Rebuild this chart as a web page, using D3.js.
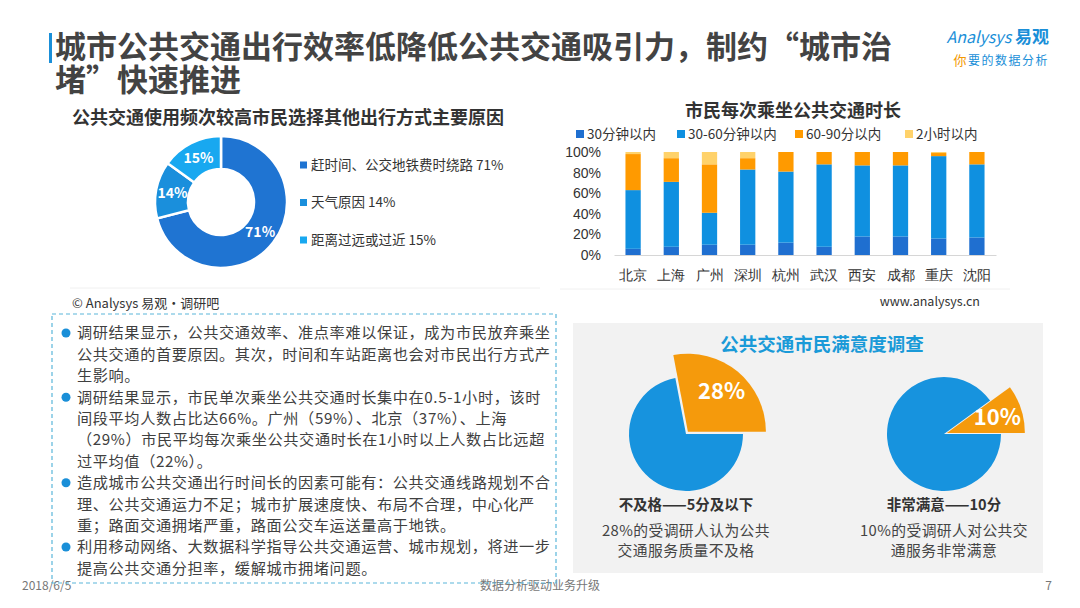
<!DOCTYPE html>
<html>
<head>
<meta charset="utf-8">
<script src="https://cdn.jsdelivr.net/npm/d3@7"></script>
<style>
  body { margin: 0; background: #fff; }
  svg { display: block; font-family: "Noto Sans CJK SC", "Noto Sans", sans-serif; }
</style>
</head>
<body>
<svg id="slide" width="1080" height="608"></svg>
<script>
// ---- data ----
var reasons = ["赶时间、公交地铁费时绕路", "天气原因", "距离过远或过近"];
var reasonShares = [71, 14, 15];
var reasonColors = ["#1f74d2", "#1a8fdc", "#18a8f0"];

var cities = ["北京", "上海", "广州", "深圳", "杭州", "武汉", "西安", "成都", "重庆", "沈阳"];
var durationKeys = ["30分钟以内", "30-60分钟以内", "60-90分以内", "2小时以内"];
var under30 = [6, 8, 10, 10, 12, 8, 18, 18, 16, 17];
var from30to60 = [57, 63, 31, 73, 69, 80, 69, 69, 80, 71];
var from60to90 = [35, 23, 47, 11, 19, 12, 13, 13, 3, 12];
var within2h = [2, 6, 12, 6, 0, 0, 0, 0, 1, 0];
var durationColors = ["#1f6fd0", "#0f90e0", "#ff9a00", "#ffd26a"];
var percentTicks = [0, 20, 40, 60, 80, 100];

var satisfactionTitles = ["不及格——5分及以下", "非常满意——10分"];
var satisfactionShares = [28, 10];
var satisfactionNotes = [
    ["28%的受调研人认为公共", "交通服务质量不及格"],
    ["10%的受调研人对公共交", "通服务非常满意"]
];

var findings = [
    ["调研结果显示，公共交通效率、准点率难以保证，成为市民放弃乘坐",
     "公共交通的首要原因。其次，时间和车站距离也会对市民出行方式产",
     "生影响。"],
    ["调研结果显示，市民单次乘坐公共交通时长集中在0.5-1小时，该时",
     "间段平均人数占比达66%。广州（59%）、北京（37%）、上海",
     "（29%）市民平均每次乘坐公共交通时长在1小时以上人数占比远超",
     "过平均值（22%）。"],
    ["造成城市公共交通出行时间长的因素可能有：公共交通线路规划不合",
     "理、公共交通运力不足；城市扩展速度快、布局不合理，中心化严",
     "重；路面交通拥堵严重，路面公交车运送量高于地铁。"],
    ["利用移动网络、大数据科学指导公共交通运营、城市规划，将进一步",
     "提高公共交通分担率，缓解城市拥堵问题。"]
];

var svg = d3.select("#slide");

/**
 * Slide title, logo and footer
 */
function drawFrame() {
    svg.append("rect")
        .attr("x", 49).attr("y", 33)
        .attr("width", 3).attr("height", 30)
        .attr("fill", "#1a8fd8");

    var title = svg.append("text")
        .style("font-size", "31px")
        .style("font-weight", "bold")
        .style("fill", "#434343");
    title.append("tspan").attr("x", 55).attr("y", 58)
        .text("城市公共交通出行效率低降低公共交通吸引力，制约“城市治");
    title.append("tspan").attr("x", 55).attr("y", 91)
        .text("堵”快速推进");

    // logo
    svg.append("text")
        .attr("x", 1049).attr("y", 43)
        .attr("text-anchor", "end")
        .style("font-size", "17px")
        .style("fill", "#1a8fd8")
        .html('<tspan style="font-style:italic;font-size:16px">Analysys</tspan> <tspan font-weight="bold">易观</tspan>');
    svg.append("text")
        .attr("x", 1049).attr("y", 65)
        .attr("text-anchor", "end")
        .style("font-size", "12px")
        .style("fill", "#1a8fd8")
        .style("letter-spacing", "1.5px")
        .html('<tspan fill="#f39800" style="font-size:13px">你</tspan>要的数据分析');

    // footer
    var footer = svg.append("g")
        .style("font-size", "12px")
        .style("fill", "#777");
    footer.append("text").attr("x", 22).attr("y", 590).text("2018/6/5");
    footer.append("text").attr("x", 540).attr("y", 590).attr("text-anchor", "middle").text("数据分析驱动业务升级");
    footer.append("text").attr("x", 1052).attr("y", 590).attr("text-anchor", "end").text("7");
}

/**
 * Donut of reasons for choosing other transport
 */
function drawReasonDonut() {
    var cx = 221, cy = 202;
    var g = svg.append("g").attr("class", "donut");

    g.append("text")
        .attr("x", 288).attr("y", 124)
        .attr("text-anchor", "middle")
        .style("font-size", "18px")
        .style("font-weight", "bold")
        .style("fill", "#333")
        .text("公共交通使用频次较高市民选择其他出行方式主要原因");

    var pie = d3.pie().sort(null)(reasonShares);
    var arc = d3.arc().innerRadius(33).outerRadius(66);

    var slices = g.append("g")
        .attr("transform", "translate(" + cx + "," + cy + ")")
        .selectAll(".slice")
        .data(pie)
        .enter();

    slices.append("path")
        .attr("class", "slice")
        .attr("d", arc)
        .attr("fill", function (d, i) { return reasonColors[i]; })
        .attr("stroke", "#fff")
        .attr("stroke-width", 2.5);

    slices.append("text")
        .attr("transform", function (d) { return "translate(" + arc.centroid(d) + ")"; })
        .attr("text-anchor", "middle")
        .attr("dy", "0.36em")
        .style("font-size", "14px")
        .style("font-weight", "bold")
        .style("fill", "#fff")
        .text(function (d) { return d.data + "%"; });

    // legend
    var legend = g.selectAll(".legend")
        .data(reasons)
        .enter()
        .append("g")
        .attr("class", "legend")
        .attr("transform", function (d, i) { return "translate(300," + (165 + i * 37.5) + ")"; });
    legend.append("rect")
        .attr("x", 0).attr("y", -3.5)
        .attr("width", 7).attr("height", 7)
        .attr("fill", function (d, i) { return reasonColors[i]; });
    legend.append("text")
        .attr("x", 11).attr("dy", "0.36em")
        .style("font-size", "13.5px")
        .style("fill", "#333")
        .text(function (d, i) { return d + " " + reasonShares[i] + "%"; });

    g.append("line")
        .attr("x1", 70).attr("x2", 540).attr("y1", 288).attr("y2", 288)
        .attr("stroke", "#f0f0f0");
    g.append("text")
        .attr("x", 72).attr("y", 308)
        .style("font-size", "13px")
        .style("fill", "#333")
        .text("© Analysys 易观·调研吧");
}

/**
 * Stacked bars of ride duration per city
 */
function drawDurationBars() {
    var g = svg.append("g").attr("class", "bars");

    g.append("text")
        .attr("x", 793).attr("y", 117)
        .attr("text-anchor", "middle")
        .style("font-size", "18px")
        .style("font-weight", "bold")
        .style("fill", "#333")
        .text("市民每次乘坐公共交通时长");

    // legend
    var legendX = [576, 677, 795, 905];
    var legend = g.selectAll(".legend")
        .data(durationKeys)
        .enter()
        .append("g")
        .attr("class", "legend")
        .attr("transform", function (d, i) { return "translate(" + legendX[i] + ",134)"; });
    legend.append("rect")
        .attr("y", -4)
        .attr("width", 8).attr("height", 8)
        .attr("fill", function (d, i) { return durationColors[i]; });
    legend.append("text")
        .attr("x", 11).attr("dy", "0.36em")
        .style("font-size", "13.5px")
        .style("fill", "#333")
        .text(function (d) { return d; });

    var rows = cities.map(function (c, i) {
        var r = { city: c };
        r[durationKeys[0]] = under30[i];
        r[durationKeys[1]] = from30to60[i];
        r[durationKeys[2]] = from60to90[i];
        r[durationKeys[3]] = within2h[i];
        return r;
    });

    var x = d3.scaleBand().domain(cities).range([614, 996]).paddingInner(0.6).paddingOuter(0.3);
    var y = d3.scaleLinear().domain([0, 100]).range([255, 152]);
    var series = d3.stack().keys(durationKeys)(rows);

    g.append("g")
        .selectAll(".series")
        .data(series)
        .enter()
        .append("g")
        .attr("class", "series")
        .attr("fill", function (d, i) { return durationColors[i]; })
        .selectAll("rect")
        .data(function (d) { return d; })
        .enter()
        .append("rect")
        .attr("x", function (d) { return x(d.data.city); })
        .attr("width", x.bandwidth())
        .attr("y", function (d) { return y(d[1]); })
        .attr("height", function (d) { return y(d[0]) - y(d[1]); });

    var yAxis = g.append("g")
        .attr("transform", "translate(603,0)")
        .call(d3.axisLeft(y).tickValues(percentTicks).tickSize(0).tickPadding(2)
            .tickFormat(function (d) { return d + "%"; }));
    yAxis.select(".domain").remove();
    yAxis.selectAll("text")
        .style("font-family", "inherit")
        .style("font-size", "14px")
        .style("fill", "#333");

    var xAxis = g.append("g")
        .attr("transform", "translate(0,255)")
        .call(d3.axisBottom(x).tickSize(0).tickPadding(15));
    xAxis.select(".domain").attr("stroke", "#d6d6d6");
    xAxis.selectAll("text")
        .style("font-family", "inherit")
        .style("font-size", "14px")
        .style("fill", "#333");

    g.append("line")
        .attr("x1", 560).attr("x2", 1010).attr("y1", 289).attr("y2", 289)
        .attr("stroke", "#f0f0f0");
    g.append("text")
        .attr("x", 980).attr("y", 306)
        .attr("text-anchor", "end")
        .style("font-size", "12.5px")
        .style("fill", "#333")
        .text("www.analysys.cn");
}

/**
 * Dashed box with the findings as bullets
 */
function drawFindings() {
    var g = svg.append("g").attr("class", "findings");

    g.append("rect")
        .attr("x", 52).attr("y", 314)
        .attr("width", 504).attr("height", 269)
        .attr("fill", "none")
        .attr("stroke", "#5ab6da")
        .attr("stroke-width", 1.2)
        .attr("stroke-dasharray", "4,3");

    // every line sits on an even 21.4px grid starting at y 333
    var firstLine = [];
    var n = 0;
    findings.forEach(function (p) { firstLine.push(n); n += p.length; });
    var lineY = function (k) { return 333 + k * 21.4; };

    var paras = g.selectAll(".para")
        .data(findings)
        .enter()
        .append("g")
        .attr("class", "para");

    paras.append("circle")
        .attr("cx", 66)
        .attr("cy", function (d, i) { return lineY(firstLine[i]); })
        .attr("r", 4.5)
        .attr("fill", "#1a8fd8");

    paras.each(function (lines, i) {
        d3.select(this).selectAll("text")
            .data(lines)
            .enter()
            .append("text")
            .attr("x", 77)
            .attr("y", function (d, j) { return lineY(firstLine[i] + j); })
            .attr("dy", "0.36em")
            .style("font-size", "15.2px")
            .style("letter-spacing", "0.6px")
            .style("fill", "#404040")
            .text(function (d) { return d; });
    });
}

/**
 * Grey panel with two exploded pies on satisfaction
 */
function drawSatisfaction() {
    var g = svg.append("g").attr("class", "satisfaction");

    g.append("rect")
        .attr("x", 573).attr("y", 323)
        .attr("width", 470).attr("height", 250)
        .attr("fill", "#f2f2f2");

    g.append("text")
        .attr("x", 822).attr("y", 351)
        .attr("text-anchor", "middle")
        .style("font-size", "18.5px")
        .style("font-weight", "bold")
        .style("fill", "#1a9ad8")
        .text("公共交通市民满意度调查");

    var centers = [[686, 434], [944, 434]];

    satisfactionShares.forEach(function (share, i) {
        var start = Math.PI / 2 - share / 100 * 2 * Math.PI;
        var pie = d3.pie().sort(null).startAngle(start).endAngle(start + 2 * Math.PI);
        var slices = pie([share, 100 - share]);
        var bigArc = d3.arc().innerRadius(0).outerRadius(78);
        var smallArc = d3.arc().innerRadius(0).outerRadius(57);
        var mid = (slices[0].startAngle + slices[0].endAngle) / 2;
        var off = [3 * Math.sin(mid), -3 * Math.cos(mid)];

        var p = g.append("g")
            .attr("transform", "translate(" + centers[i] + ")");

        p.append("path")
            .attr("d", smallArc(slices[1]))
            .attr("fill", "#1793de");
        p.append("path")
            .attr("d", bigArc(slices[0]))
            .attr("transform", "translate(" + off + ")")
            .attr("fill", "#f59a0c");
        p.append("text")
            .attr("transform", "translate(" + d3.arc().innerRadius(56).outerRadius(56).centroid(slices[0]) + ")")
            .attr("text-anchor", "middle")
            .attr("dy", "0.36em")
            .style("font-size", "22px")
            .style("font-weight", "bold")
            .style("fill", "#fff")
            .text(share + "%");

        var cx = centers[i][0];
        g.append("text")
            .attr("x", cx).attr("y", 510)
            .attr("text-anchor", "middle")
            .style("font-size", "14.5px")
            .style("font-weight", "bold")
            .style("fill", "#333")
            .text(satisfactionTitles[i]);
        g.selectAll(".note" + i)
            .data(satisfactionNotes[i])
            .enter()
            .append("text")
            .attr("x", cx)
            .attr("y", function (d, j) { return 536 + j * 20; })
            .attr("text-anchor", "middle")
            .style("font-size", "14.8px")
            .style("letter-spacing", "0.4px")
            .style("fill", "#444")
            .text(function (d) { return d; });
    });
}

drawFrame();
drawReasonDonut();
drawDurationBars();
drawFindings();
drawSatisfaction();
</script>
</body>
</html>
